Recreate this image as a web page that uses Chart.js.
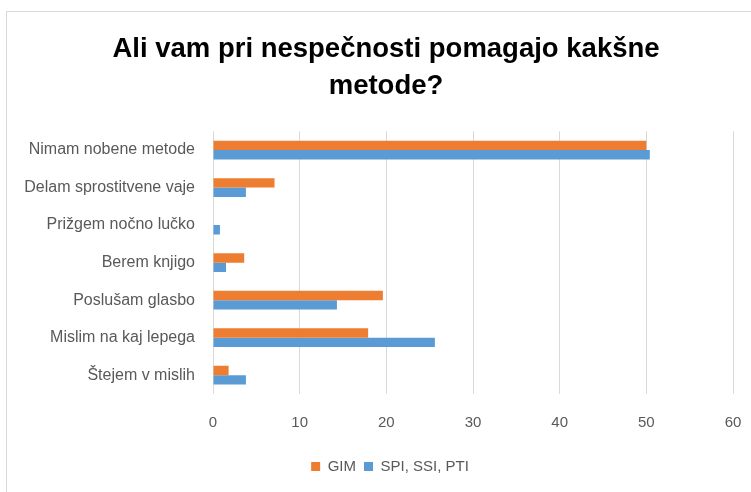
<!DOCTYPE html>
<html>
<head>
<meta charset="utf-8">
<script src="https://cdn.jsdelivr.net/npm/chart.js@4.4.0/dist/chart.umd.min.js"></script>
<style>
    html, body { margin: 0; padding: 0; background: #fff; }
    #wrap { width: 751px; height: 492px; }
</style>
</head>
<body>
<div id="wrap"><canvas id="methodsChart" width="751" height="492"></canvas></div>
<script>
// Data (percent)
const categories = [
    'Nimam nobene metode',
    'Delam sprostitvene vaje',
    'Prižgem nočno lučko',
    'Berem knjigo',
    'Poslušam glasbo',
    'Mislim na kaj lepega',
    'Štejem v mislih'
];
const gimValues = [50.0, 7.1, 0, 3.6, 19.6, 17.9, 1.8];
const spiValues = [50.4, 3.8, 0.8, 1.5, 14.3, 25.6, 3.8];
const xTicks = [0, 10, 20, 30, 40, 50, 60];

// light frame around the chart like the Excel chart border
const framePlugin = {
    id: 'frame',
    beforeDraw(chart) {
        const ctx = chart.ctx;
        ctx.save();
        ctx.fillStyle = '#fff';
        ctx.fillRect(0, 0, chart.width, chart.height);
        ctx.strokeStyle = '#d9d9d9';
        ctx.lineWidth = 1;
        ctx.strokeRect(6.5, 11.5, chart.width + 20, chart.height + 20);
        ctx.restore();
    }
};

// title and legend are centred a bit right of the canvas middle in the original
const centerPlugin = {
    id: 'recenter',
    afterLayout(chart) {
        if (chart.titleBlock) {
            chart.titleBlock.left = 39;
            chart.titleBlock.right = 733;
        }
        if (chart.legend) {
            chart.legend.left = 47;
            chart.legend.right = 733;
        }
    }
};

const ctx = document.getElementById('methodsChart').getContext('2d');
new Chart(ctx, {
    type: 'bar',
    data: {
        labels: categories,
        datasets: [{
            label: 'GIM',
            data: gimValues,
            backgroundColor: '#ED7D31',
            categoryPercentage: 0.5,
            barPercentage: 1.0
        }, {
            label: 'SPI, SSI, PTI',
            data: spiValues,
            backgroundColor: '#5B9BD5',
            categoryPercentage: 0.5,
            barPercentage: 1.0
        }]
    },
    options: {
        indexAxis: 'y',
        responsive: false,
        animation: false,
        layout: { padding: { left: 0, right: 18, top: 0, bottom: 8 } },
        plugins: {
            title: {
                display: true,
                text: ['Ali vam pri nespečnosti pomagajo kakšne', 'metode?'],
                color: '#000',
                font: { family: "'Liberation Sans', Arial", size: 27.5, weight: 'bold', lineHeight: 1.35 },
                padding: { top: 31, bottom: 26 }
            },
            legend: {
                position: 'bottom',
                labels: {
                    boxWidth: 9,
                    boxHeight: 9,
                    padding: 8,
                    color: '#595959',
                    font: { family: "'Liberation Sans', Arial", size: 15 }
                }
            },
            tooltip: { enabled: false }
        },
        scales: {
            x: {
                min: 0,
                max: 60,
                afterBuildTicks: function(scale) {
                    scale.ticks = xTicks.map(v => ({ value: v }));
                },
                afterFit: function(scale) { scale.height = 57; },
                // invisible tick marks push the labels down without widening the side padding
                grid: { color: '#d9d9d9', drawTicks: true, tickLength: 18, tickColor: 'rgba(0,0,0,0)' },
                border: { display: false },
                ticks: {
                    padding: 2,
                    color: '#595959',
                    font: { family: "'Liberation Sans', Arial", size: 15 }
                }
            },
            y: {
                afterFit: function(scale) { scale.width = 213; },
                grid: { display: false },
                border: { display: false },
                ticks: {
                    padding: 10,
                    color: '#595959',
                    font: { family: "'Liberation Sans', Arial", size: 16 }
                }
            }
        }
    },
    plugins: [framePlugin, centerPlugin]
});
</script>
</body>
</html>
